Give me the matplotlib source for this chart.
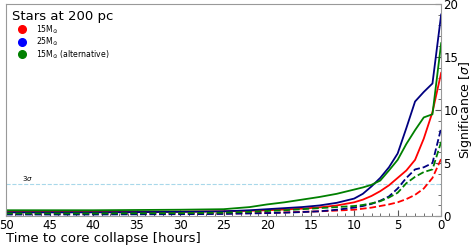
import matplotlib
matplotlib.use("Agg")
import matplotlib.pyplot as plt
from matplotlib.lines import Line2D
from matplotlib.ticker import MultipleLocator

# time to core collapse [hours]
hours = [50, 40, 30, 25, 22, 20, 18, 16, 14, 12, 10, 9, 8, 7, 6, 5, 4, 3, 2, 1, 0]

# significance [sigma], solid curves
sig_15 = [0.4, 0.4, 0.42, 0.45, 0.5, 0.55, 0.62, 0.7, 0.82, 1.0, 1.3, 1.55, 1.9, 2.35,
          2.9, 3.6, 4.3, 5.3, 7.3, 9.8, 13.5]
sig_25 = [0.35, 0.35, 0.4, 0.45, 0.55, 0.65, 0.75, 0.85, 1.0, 1.25, 1.65, 2.1, 2.8, 3.6,
          4.6, 5.9, 8.3, 10.8, 11.7, 12.5, 19.0]
sig_15alt = [0.55, 0.55, 0.6, 0.65, 0.85, 1.1, 1.3, 1.55, 1.8, 2.1, 2.5, 2.7, 2.95, 3.35,
             4.3, 5.3, 6.8, 8.1, 9.3, 9.6, 16.3]

# dashed curves
sig_15_d = [0.2, 0.2, 0.22, 0.25, 0.28, 0.3, 0.35, 0.4, 0.45, 0.52, 0.6, 0.7, 0.8, 0.95,
            1.1, 1.3, 1.6, 2.0, 2.6, 3.6, 5.4]
sig_25_d = [0.15, 0.15, 0.18, 0.2, 0.25, 0.28, 0.32, 0.38, 0.45, 0.6, 0.8, 0.95, 1.15, 1.45,
            1.85, 2.6, 3.6, 4.4, 4.6, 5.0, 8.3]
sig_15alt_d = [0.25, 0.25, 0.28, 0.32, 0.4, 0.48, 0.55, 0.65, 0.75, 0.85, 0.95, 1.05, 1.2,
               1.4, 1.75, 2.2, 3.1, 3.7, 4.15, 4.4, 7.0]

labels = [r"15M$_{\odot}$", r"25M$_{\odot}$", r"15M$_{\odot}$ (alternative)"]

fig = plt.figure(figsize=(4.73, 2.45), dpi=100)
ax = fig.add_axes([0.0127, 0.118, 0.92, 0.866])

ax.axhline(3, color="#a8d8ea", linestyle="--", linewidth=0.8)
ax.text(48.2, 3.3, r"$3\sigma$", fontsize=5, color="black")

lw = 1.3
ax.plot(hours, sig_15, color="red", lw=lw)
ax.plot(hours, sig_25, color="navy", lw=lw)
ax.plot(hours, sig_15alt, color="green", lw=lw)
ax.plot(hours, sig_15_d, color="red", lw=lw, ls="--")
ax.plot(hours, sig_25_d, color="navy", lw=lw, ls="--")
ax.plot(hours, sig_15alt_d, color="green", lw=lw, ls="--")

ax.set_xlim(50, 0)
ax.set_ylim(0, 20)
ax.yaxis.tick_right()
ax.yaxis.set_label_position("right")
ax.xaxis.set_major_locator(MultipleLocator(5))
ax.xaxis.set_minor_locator(MultipleLocator(1))
ax.yaxis.set_major_locator(MultipleLocator(5))
ax.yaxis.set_minor_locator(MultipleLocator(1))
ax.tick_params(axis="both", which="major", labelsize=8.5, colors="#555555", labelcolor="black",
               length=4, direction="in", pad=2)
ax.tick_params(axis="y", which="major", pad=1.5)
ax.tick_params(axis="both", which="minor", colors="#555555", length=2, direction="in")
ax.set_xlabel("Time to core collapse [hours]", fontsize=9.5, loc="left", labelpad=0)
ax.set_ylabel(r"Significance [$\sigma$]", fontsize=9, labelpad=-1)
for sp in ax.spines.values():
    sp.set_color("#999999")

handles = [Line2D([], [], marker="o", ls="", color=c, markersize=5.5) for c in ["red", "blue", "green"]]
leg = ax.legend(handles, labels, loc="upper left", title="Stars at 200 pc", frameon=False,
                fontsize=5.6, title_fontsize=9.5, handlelength=2.6, handletextpad=0.5,
                borderaxespad=0.4, labelspacing=0.0)
leg._legend_box.align = "left"

fig.savefig("out.png", dpi=100)
